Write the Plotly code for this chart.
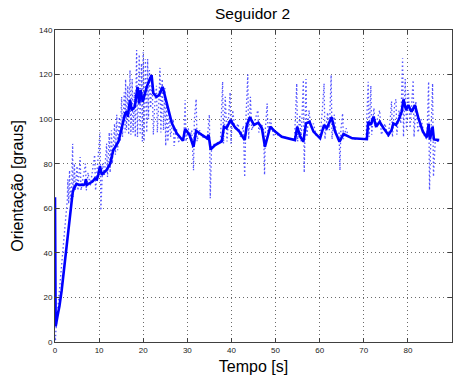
import plotly.graph_objects as go

# Solid (filtered) orientation
t_solid = [0, 0.15, 0.6, 1.0, 1.5, 2.3, 3.0, 3.55, 4.0, 4.3,
           4.9, 5.5, 6.5, 6.8, 7.0, 7.2, 7.7, 8.5, 9.07, 9.5,
           9.8, 10.2, 10.6, 11.2, 11.7, 12.5, 13.2, 14.4, 15.1, 15.9,
           16.3, 16.5, 17.0, 17.4, 18.1, 18.7, 19.1, 19.4, 19.9, 20.8,
           21.9, 22.3, 23.0, 23.6, 24.4, 25.3, 26.5, 27.6, 28.7, 29.0,
           29.5, 30.5, 31.4, 32.0, 33.3, 34.5, 34.8, 35.3, 36.3, 37.8,
           38.3, 38.9, 39.8, 40.7, 41.8, 42.7, 43.0, 43.5, 44.2, 45.1,
           46.1, 46.9, 47.6, 48.8, 49.9, 51.4, 54.0, 54.4, 54.9, 55.6,
           56.3, 56.9, 57.7, 58.6, 60.1, 61.0, 61.6, 62.7, 63.5, 64.5,
           65.4, 66.5, 67.4, 70.7, 71.0, 71.6, 72.2, 72.8, 73.6, 74.5,
           75.6, 76.3, 76.7, 77.3, 77.9, 78.6, 79.0, 79.6, 80.1, 80.8,
           81.6, 82.4, 83.4, 84.3, 84.7, 85.0, 85.6, 85.9, 87.1]
v_solid = [65, 7, 12, 16, 23, 38, 50, 59, 67, 69,
           71, 70.5, 70.5, 71, 73, 70.5, 71, 72, 73.4, 73,
           75, 79, 75, 76, 77.2, 80, 86, 90, 96.6, 102.6,
           103.5, 101, 108.6, 104, 105.6, 114.5, 107, 113, 107.8, 114.5,
           119.8, 111.6, 110, 110.8, 114.5, 107, 98.1, 93.6, 90.6, 90.3,
           95.6, 92.9, 87.6, 94.8, 92.9, 91.4, 93, 86.4, 88.4, 90,
           96.6, 96, 99.6, 96.6, 94.4, 91.4, 90.6, 97.4, 100.8, 97.4,
           98.4, 95.9, 87.6, 96.6, 94.4, 92.1, 90.6, 90.6, 96.6, 92.1,
           89.9, 98.1, 98.8, 94.4, 91.4, 97.4, 95.9, 100.8, 94.4, 89.9,
           93.3, 92.1, 91.4, 91, 98.8, 97.4, 101.1, 96.6, 98.8, 95.9,
           92.9, 95.1, 98.1, 97.4, 99.6, 103.3, 108.9, 104.1, 106.3, 103.3,
           106.3, 100.3, 94.4, 91.8, 97.8, 90.9, 96.6, 90.9, 90.6]

# Dotted (raw) orientation
t_raw = [0, 0.1, 0.2, 0.5, 0.8, 1.1, 1.5, 2.0, 2.5, 2.8,
         2.9, 3.1, 3.3, 3.5, 3.8, 4.0, 4.1, 4.4, 4.6, 5.0,
         5.2, 5.7, 5.9, 6.5, 6.9, 7.1, 7.5, 8.0, 8.5, 9.0,
         9.2, 9.6, 10.2, 10.4, 10.8, 11.2, 11.7, 11.9, 12.3, 12.5,
         12.8, 13.0, 13.5, 13.7, 14.0, 14.2, 14.6, 14.8, 15.1, 15.3,
         15.7, 15.9, 16.0, 16.2, 16.5, 16.7, 17.0, 17.2, 17.5, 17.7,
         18.0, 18.2, 18.5, 18.7, 19.1, 19.3, 19.6, 19.8, 20.0, 20.2,
         20.5, 20.8, 21.0, 21.2, 21.4, 21.7, 22.0, 22.3, 22.6, 23.0,
         23.2, 23.6, 23.8, 24.0, 24.3, 24.6, 24.9, 25.1, 25.3, 25.6,
         25.9, 26.2, 26.8, 27.0, 27.5, 28.0, 28.7, 29.2, 29.5, 29.7,
         30.2, 30.6, 31.0, 31.4, 31.6, 32.0, 32.2, 32.8, 33.5, 34.5,
         35.0, 35.2, 35.5, 36.3, 37.5, 38.0, 38.2, 38.6, 39.0, 39.7,
         39.9, 40.3, 40.8, 41.5, 42.0, 42.7, 43.0, 43.3, 43.7, 43.9,
         44.3, 44.6, 45.2, 46.0, 46.2, 46.8, 47.3, 47.5, 47.7, 48.1,
         48.3, 48.8, 49.5, 50.5, 52.0, 53.5, 54.3, 54.8, 55.0, 55.5,
         55.8, 56.3, 56.5, 56.9, 57.1, 57.6, 58.0, 58.6, 59.3, 60.1,
         60.6, 61.0, 61.2, 61.8, 62.2, 62.6, 62.8, 63.3, 63.8, 64.4,
         64.6, 64.8, 65.2, 65.4, 66.0, 66.5, 68.0, 70.5, 71.0, 71.2,
         71.6, 71.8, 72.3, 72.6, 73.2, 73.6, 74.0, 74.8, 75.5, 76.0,
         76.3, 76.5, 77.0, 77.3, 77.5, 78.0, 78.4, 78.8, 79.0, 79.4,
         79.7, 80.1, 80.5, 81.2, 81.4, 81.8, 82.3, 83.0, 83.8, 84.3,
         84.7, 84.9, 85.2, 85.6, 85.8, 86.2, 87.0]
v_raw = [2, 0.5, 5, 12, 20, 28, 37, 48, 58, 64,
         73, 62, 77, 64, 70, 89, 65, 80, 68, 79,
         68, 83, 68, 75, 80, 68, 76, 70, 77, 84,
         68, 80, 94, 59, 80, 75, 89, 74, 94, 76,
         95, 80, 98, 84, 102, 86, 101, 90, 110, 92,
         112, 94, 118, 95, 115, 93, 122, 93, 118, 94,
         112, 92, 131, 92, 129, 93, 125, 90, 130, 90,
         127, 94, 127, 100, 122, 105, 118, 93, 106, 115,
         94, 110, 123, 94, 118, 95, 114, 88, 107, 90,
         103, 92, 100, 88, 96, 90, 91, 90, 108.6, 90,
         96, 92, 95, 77, 100, 109, 90, 95, 92, 91,
         102, 64.5, 88, 89, 90, 116.8, 89, 110, 90, 112,
         89, 104, 95, 98, 92, 97, 74, 101, 120, 91,
         110, 95, 99, 104, 94, 98, 95, 75, 96, 107,
         93, 100, 93, 93, 92, 91, 91, 116, 90, 102,
         90, 117.5, 76, 118, 92, 104, 96, 98, 92, 92,
         104, 116, 91, 103, 95, 119.8, 91, 102, 93, 94,
         77, 95, 102.6, 91, 96, 92, 91, 91, 116.8, 92,
         115, 93, 105, 96, 101, 104, 93, 98, 92, 100,
         108, 92, 107, 109, 93, 104, 98, 127.3, 92, 118,
         95, 113, 96, 117.5, 92, 108, 94, 100, 92, 91,
         116.8, 68.2, 92, 116, 74.2, 90, 90]

assert len(t_solid) == len(v_solid)
assert len(t_raw) == len(v_raw)

x_ticks = [0, 10, 20, 30, 40, 50, 60, 70, 80, 90]
y_ticks = [0, 20, 40, 60, 80, 100, 120, 140]

FONT = "Liberation Sans, Arial, sans-serif"

fig = go.Figure()
fig.add_trace(go.Scatter(x=t_raw, y=v_raw, mode="lines",
                         line=dict(color="#2a2aff", width=1.3, dash="1.5px,2.5px"),
                         opacity=0.8, showlegend=False))
fig.add_trace(go.Scatter(x=t_solid, y=v_solid, mode="lines",
                         line=dict(color="#0000FF", width=2.6),
                         showlegend=False))

axis_common = dict(showline=True, linecolor="#404040", linewidth=1, mirror="ticks",
                   ticks="inside", ticklen=4, tickcolor="#404040",
                   showgrid=True, gridcolor="#6a6a6a", gridwidth=1, griddash="1px,3px",
                   zeroline=False,
                   tickfont=dict(family=FONT, size=8, color="#222222"))

fig.update_xaxes(range=[0, 90], tickvals=x_ticks,
                 title=dict(text="Tempo [s]", standoff=7,
                            font=dict(family=FONT, size=16, color="#000000")),
                 **axis_common)
fig.update_yaxes(range=[0, 140], tickvals=y_ticks,
                 title=dict(text="Orientação [graus]", standoff=11,
                            font=dict(family=FONT, size=16, color="#000000")),
                 **axis_common)

fig.update_layout(
    width=455, height=380,
    margin=dict(l=55, r=3, t=30, b=38),
    paper_bgcolor="white", plot_bgcolor="white",
    title=dict(text="Seguidor 2", x=0.555, xanchor="center", y=0.965, yanchor="middle",
               font=dict(family=FONT, size=15.5, color="#000000")),
)

fig.write_html("out.html")
